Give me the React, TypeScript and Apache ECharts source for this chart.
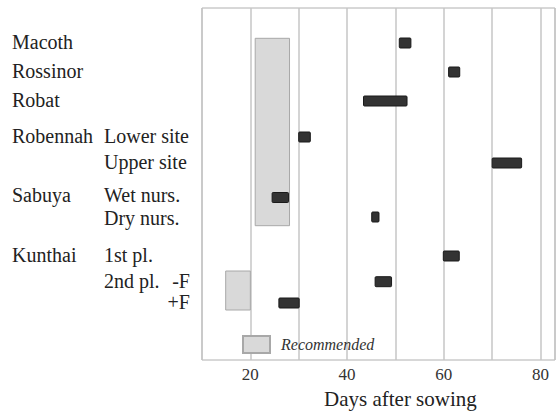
import React, { useEffect, useRef } from "react";
import * as echarts from "echarts";

// Rows (top to bottom)
const groupLabels = ["Macoth", "Rossinor", "Robat", "Robennah", "", "Sabuya", "", "Kunthai", "", ""];
const subLabels = ["", "", "", "Lower site", "Upper site", "Wet nurs.", "Dry nurs.", "1st pl.", "2nd pl.", ""];
const fertLabels = ["", "", "", "", "", "", "", "", "-F", "+F"];
// Row positions on the vertical (row) scale
const rowPos = [3.5, 6.4, 9.3, 12.9, 15.5, 18.95, 20.9, 24.8, 27.37, 29.5];
// Observed period (days after sowing)
const obsStart = [50.8, 61.0, 43.4, 30.0, 70.0, 24.5, 45.1, 59.9, 45.8, 25.9];
const obsEnd = [53.2, 63.3, 52.4, 32.4, 76.1, 27.9, 46.6, 63.2, 49.2, 30.1];
// Recommended periods: [startDay, endDay, topRow, bottomRow]
const recStart = [21.0, 14.9];
const recEnd = [28.1, 20.0];
const recTop = [3.03, 26.3];
const recBottom = [21.77, 30.2];

const xTicks = [20, 40, 60, 80];

const SERIF = "Liberation Serif, Times New Roman, serif";

export default function App() {
  const ref = useRef<HTMLDivElement>(null);
  useEffect(() => {
    if (!ref.current) return;
    const chart = echarts.init(ref.current, undefined, { renderer: "svg" });
    const obsData = rowPos.map((y, i) => [obsStart[i], obsEnd[i], y]);
    const recData = recStart.map((s, i) => [s, recEnd[i], recTop[i], recBottom[i]]);
    const labelData = rowPos.map((y, i) => [i, y]);
    const txt = (text: string, x: number, y: number, align: string) => ({
      type: "text",
      x,
      y,
      style: {
        text,
        fontFamily: SERIF,
        fontSize: 20,
        fill: "#222",
        align,
        verticalAlign: "middle",
      },
    });
    chart.setOption({
      animation: false,
      backgroundColor: "#fff",
      textStyle: { fontFamily: SERIF },
      grid: {
        left: 202,
        right: -2,
        top: 8,
        bottom: 52,
        show: true,
        borderColor: "#b0b0b0",
        borderWidth: 1,
        backgroundColor: "transparent",
      },
      legend: {
        data: ["Recommended"],
        left: 242,
        top: 335,
        padding: 0,
        itemWidth: 27,
        itemHeight: 17,
        icon: "rect",
        textStyle: {
          fontFamily: SERIF,
          fontStyle: "italic",
          fontSize: 16,
          color: "#333",
          padding: [0, 0, 0, 6],
        },
      },
      xAxis: {
        type: "value",
        min: 10,
        max: 83,
        interval: 10,
        axisLine: { show: false },
        axisTick: { show: false },
        splitLine: { show: true, lineStyle: { color: "#c6c6c6", width: 1.5 } },
        axisLabel: {
          margin: 6,
          fontFamily: SERIF,
          fontSize: 17,
          color: "#333",
          formatter: (v: number) => (xTicks.indexOf(v) >= 0 ? String(v) : ""),
        },
      },
      yAxis: {
        type: "value",
        inverse: true,
        min: 0,
        max: 35.2,
        show: false,
      },
      graphic: [
        {
          type: "text",
          left: 324,
          top: 388,
          style: {
            text: "Days after sowing",
            fontFamily: SERIF,
            fontSize: 21,
            fill: "#222",
          },
        },
      ],
      series: [
        {
          name: "Recommended",
          type: "custom",
          itemStyle: { color: "#d9d9d9", borderColor: "#a8a8a8", borderWidth: 1 },
          data: recData,
          renderItem: (params: any, api: any) => {
            const p1 = api.coord([api.value(0), api.value(2)]);
            const p2 = api.coord([api.value(1), api.value(3)]);
            return {
              type: "rect",
              shape: { x: p1[0], y: p1[1], width: p2[0] - p1[0], height: p2[1] - p1[1] },
              style: { fill: "#d9d9d9", stroke: "#a8a8a8", lineWidth: 1 },
            };
          },
          z: 2,
        },
        {
          name: "Observed",
          type: "custom",
          data: obsData,
          renderItem: (params: any, api: any) => {
            const p1 = api.coord([api.value(0), api.value(2)]);
            const p2 = api.coord([api.value(1), api.value(2)]);
            const h = 10;
            return {
              type: "rect",
              shape: { x: p1[0], y: p1[1] - h / 2, width: p2[0] - p1[0], height: h, r: 1 },
              style: { fill: "#333", stroke: "#1a1a1a", lineWidth: 1 },
            };
          },
          z: 3,
        },
        {
          name: "Labels",
          type: "custom",
          data: labelData,
          clip: false,
          silent: true,
          renderItem: (params: any, api: any) => {
            const i = api.value(0);
            let y = api.coord([10, api.value(1)])[1] - 1;
            // keep the two closely spaced nursery lines from touching
            if (subLabels[i] === "Wet nurs.") y -= 1.5;
            if (subLabels[i] === "Dry nurs.") y += 1.5;
            const children: any[] = [];
            if (groupLabels[i]) children.push(txt(groupLabels[i], 12, y, "left"));
            if (subLabels[i]) children.push(txt(subLabels[i], 104, y, "left"));
            if (fertLabels[i]) children.push(txt(fertLabels[i], 190, y, "right"));
            return { type: "group", children };
          },
        },
      ],
    });
    return () => chart.dispose();
  }, []);
  return (
    <div
      ref={ref}
      style={{ position: "absolute", left: 0, top: 0, width: 558, height: 412 }}
    />
  );
}
